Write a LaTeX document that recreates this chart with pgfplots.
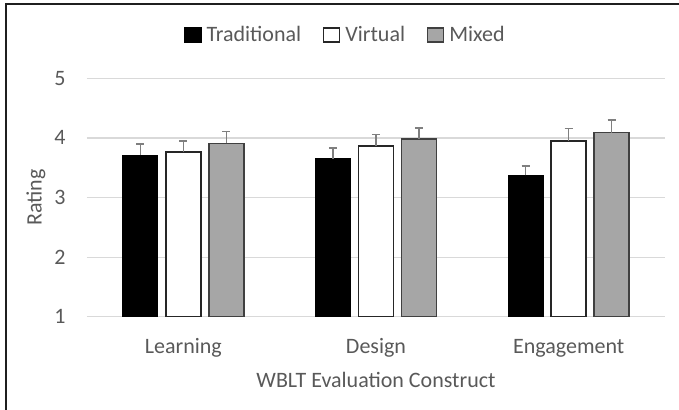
\documentclass[border=0pt]{standalone}
\usepackage{pgfplots}
\pgfplotsset{compat=1.18}
\usepackage{fontspec}
\setmainfont{Carlito}
\definecolor{txt}{HTML}{595959}
\definecolor{gridc}{HTML}{D9D9D9}
\definecolor{errc}{HTML}{7F7F7F}
\definecolor{midgray}{HTML}{A6A6A6}
\definecolor{edge}{HTML}{404040}
\pgfplotstableread{
x y e
0 3.71 0.19
1 3.65 0.18
2 3.37 0.16
}\trad
\pgfplotstableread{
x y e
0 3.76 0.19
1 3.86 0.20
2 3.95 0.21
}\virt
\pgfplotstableread{
x y e
0 3.91 0.20
1 3.98 0.19
2 4.09 0.21
}\mixed
\begin{document}
\begin{tikzpicture}
\useasboundingbox (0,0) rectangle (339.5bp,205bp);
\draw[line width=1bp, color=black!88] (3bp,0) -- (3bp,203bp) -- (339.5bp,203bp);
\begin{axis}[
  at={(43.5bp,46.65bp)}, anchor=south west,
  scale only axis, width=289bp, height=119.2bp,
  xmin=-0.5, xmax=2.5, ymin=1, ymax=5,
  enlarge y limits=false,
  xtick={0,1,2}, xticklabels={Learning,Design,Engagement},
  ytick={1,2,3,4,5},
  ybar, bar width=17.5bp,
  axis line style={draw=none},
  major tick length=0pt,
  ymajorgrids, grid style={color=gridc, line width=0.6bp},
  font=\fontsize{11bp}{13bp}\selectfont,
  tick label style={text=txt, font=\fontsize{11bp}{13bp}\selectfont},
  /pgf/number format/assume math mode=true,
  yticklabel style={anchor=east, inner sep=0pt, xshift=-10.5bp},
  xticklabel style={anchor=base, inner sep=0pt, yshift=-18.2bp},
  xlabel={WBLT Evaluation Construct},
  ylabel={Rating},
  label style={text=txt, font=\fontsize{11bp}{13bp}\selectfont},
  xlabel style={at={(axis description cs:0.5,0)}, anchor=base, inner sep=0pt, yshift=-35.6bp},
  ylabel style={at={(axis description cs:0,0.5)}, anchor=center, inner sep=0pt, yshift=25.5bp},
  legend columns=3,
  legend style={draw=none, fill=none, at={(axis description cs:0.4472,1)}, anchor=center, yshift=21.65bp,
    inner sep=0pt, font=\fontsize{11bp}{13bp}\selectfont, text=txt,
    nodes={inner sep=1bp, text=txt},
    /tikz/every odd column/.append style={column sep=1.5bp},
    /tikz/every even column/.append style={column sep=10bp}},
  legend image code/.code={\draw[#1, line width=0.6bp] (0bp,-3.5bp) rectangle (8bp,3.5bp);},
  error bars/error bar style={color=errc, line width=0.75bp},
  error bars/error mark options={rotate=90, color=errc, line width=0.75bp, mark size=2bp},
]
\addplot[fill=black, draw=black, bar shift=-21.5bp,
  error bars/.cd, y dir=plus, y explicit]
  table[x=x, y=y, y error=e] {\trad};
\addplot[fill=white, draw=black!85, line width=0.75bp, bar shift=0bp,
  error bars/.cd, y dir=plus, y explicit]
  table[x=x, y=y, y error=e] {\virt};
\addplot[fill=midgray, draw=edge, line width=0.75bp, bar shift=21.5bp,
  error bars/.cd, y dir=plus, y explicit]
  table[x=x, y=y, y error=e] {\mixed};
\legend{Traditional, Virtual, Mixed}
\end{axis}
\end{tikzpicture}
\end{document}
